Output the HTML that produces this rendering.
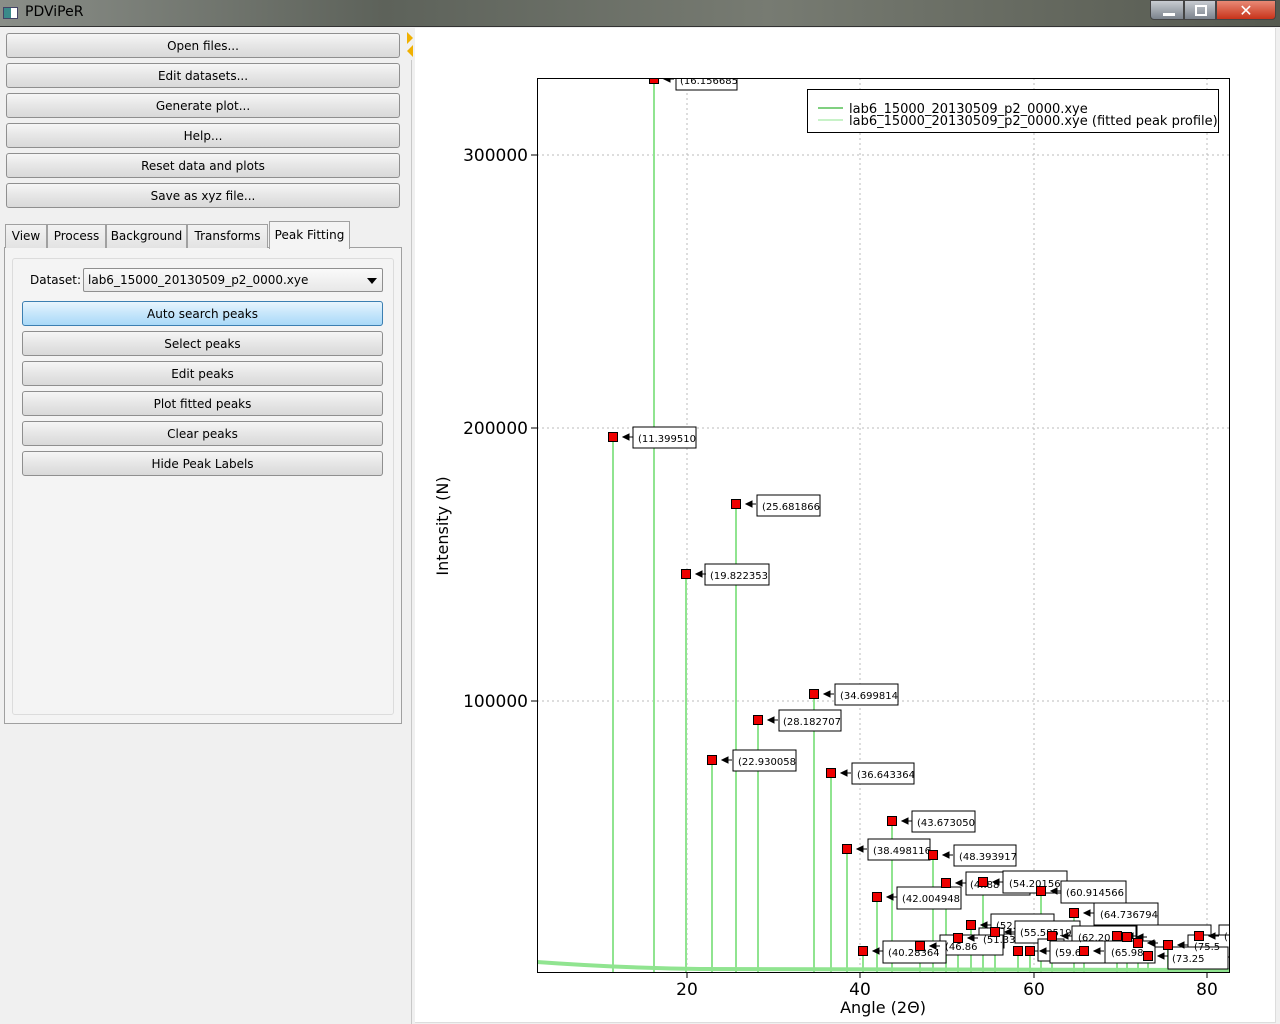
<!DOCTYPE html>
<html><head><meta charset="utf-8"><style>
*{margin:0;padding:0;box-sizing:border-box}
body{width:1280px;height:1024px;background:#f0f0f0;font-family:"DejaVu Sans","Liberation Sans",sans-serif;font-size:12px;position:relative;overflow:hidden;color:#000}
.tb{position:absolute;left:0;top:0;width:1280px;height:27px;background:linear-gradient(90deg,#8a8e88,#5d625a 30%,#777b72 60%,#55594f);border-bottom:1px solid #333}
.tb .t{position:absolute;left:25px;top:4px;font-size:14px;color:#000}
.btn{position:absolute;left:6px;width:394px;height:25px;border:1px solid #8f8f8f;border-radius:3px;background:linear-gradient(#f6f6f6,#e6e6e6 50%,#d9d9d9);text-align:center;line-height:25px;font-size:12px}
.tab{position:absolute;top:224px;height:24px;border:1px solid #a0a0a0;border-bottom:none;background:linear-gradient(#f2f2f2,#e3e3e3);line-height:23px;text-align:center;font-size:12px}
</style></head><body>
<div class="tb"><div style="position:absolute;left:3px;top:7px;width:15px;height:12px;background:#fff;border:1px solid #446"><div style="width:7px;height:10px;background:#3a8a8a"></div></div><div class="t">PDViPeR</div>
<div style="position:absolute;left:1150px;top:0;width:34px;height:20px;background:linear-gradient(#c8ccd2,#7c838c);border:1px solid #444;border-radius:0 0 0 4px"><div style="position:absolute;left:12px;top:12px;width:12px;height:3px;background:#fff"></div></div>
<div style="position:absolute;left:1184px;top:0;width:32px;height:20px;background:linear-gradient(#c8ccd2,#7c838c);border:1px solid #444"><div style="position:absolute;left:10px;top:4px;width:12px;height:11px;border:2px solid #fff"></div></div>
<div style="position:absolute;left:1216px;top:0;width:60px;height:20px;background:linear-gradient(#e88a76,#c8331a);border:1px solid #444;border-radius:0 0 4px 0;color:#fff;font-weight:bold;text-align:center;font-size:16px;line-height:19px">✕</div></div>
<div class="btn" style="top:33px">Open files...</div>
<div class="btn" style="top:63px">Edit datasets...</div>
<div class="btn" style="top:93px">Generate plot...</div>
<div class="btn" style="top:123px">Help...</div>
<div class="btn" style="top:153px">Reset data and plots</div>
<div class="btn" style="top:183px">Save as xyz file...</div>
<div style="position:absolute;left:407px;top:32px;width:0;height:0;border-top:6px solid transparent;border-bottom:6px solid transparent;border-left:6px solid #f0b000"></div>
<div style="position:absolute;left:407px;top:45px;width:0;height:0;border-top:6px solid transparent;border-bottom:6px solid transparent;border-right:6px solid #f0b000"></div>
<div style="position:absolute;left:411px;top:60px;width:1px;height:964px;background:#c8c8c8"></div>
<div style="position:absolute;left:4px;top:247px;width:398px;height:477px;border:1px solid #a0a0a0;background:#f4f4f4"></div>
<div class="tab" style="left:5px;width:42px">View</div>
<div class="tab" style="left:47px;width:59px">Process</div>
<div class="tab" style="left:106px;width:81px">Background</div>
<div class="tab" style="left:187px;width:81px">Transforms</div>
<div class="tab" style="left:269px;top:221px;height:28px;width:81px;background:#f4f4f4;line-height:27px">Peak Fitting</div>
<div style="position:absolute;left:12px;top:258px;width:382px;height:457px;border:1px solid #dcdcdc;border-radius:3px;background:#f4f4f4"></div>
<div style="position:absolute;left:30px;top:273px">Dataset:</div>
<div style="position:absolute;left:83px;top:268px;width:300px;height:24px;border:1px solid #8f8f8f;border-radius:2px;background:linear-gradient(#fafafa,#e8e8e8);padding-left:4px;line-height:23px">lab6_15000_20130509_p2_0000.xye<div style="position:absolute;right:5px;top:9px;border-left:5px solid transparent;border-right:5px solid transparent;border-top:6px solid #000"></div></div>
<div class="btn" style="left:22px;width:361px;top:301px;background:linear-gradient(#e8f5fd,#c6e6fb 50%,#a9d9f8);border-color:#3c7fb1">Auto search peaks</div>
<div class="btn" style="left:22px;width:361px;top:331px">Select peaks</div>
<div class="btn" style="left:22px;width:361px;top:361px">Edit peaks</div>
<div class="btn" style="left:22px;width:361px;top:391px">Plot fitted peaks</div>
<div class="btn" style="left:22px;width:361px;top:421px">Clear peaks</div>
<div class="btn" style="left:22px;width:361px;top:451px">Hide Peak Labels</div>
<div style="position:absolute;left:415px;top:28px;width:861px;height:995px;background:#fff;border-right:1px solid #ddd;border-bottom:1px solid #ddd"></div>
<svg style="position:absolute;left:0;top:0" width="1280" height="1024" font-family="DejaVu Sans, Liberation Sans, sans-serif">
<defs><clipPath id="c"><rect x="537" y="78" width="692" height="894"/></clipPath>
<g id="m"><rect x="-4.5" y="-4.5" width="9" height="9" fill="#e00" stroke="#000" stroke-width="1"/><path d="M10 0 L16 -3 L16 3Z M16 0 L20 0" fill="#000" stroke="#000"/></g></defs>
<g stroke="#bbb" stroke-dasharray="2,3"><line x1="687" y1="78" x2="687" y2="972"/><line x1="860" y1="78" x2="860" y2="972"/><line x1="1034" y1="78" x2="1034" y2="972"/><line x1="1207" y1="78" x2="1207" y2="972"/><line x1="537" y1="155" x2="1229" y2="155"/><line x1="537" y1="428" x2="1229" y2="428"/><line x1="537" y1="701" x2="1229" y2="701"/></g>
<g clip-path="url(#c)">
<g stroke="#90e490" stroke-width="2">
<line x1="654" y1="79" x2="654" y2="972"/><line x1="613" y1="437" x2="613" y2="972"/><line x1="736" y1="504" x2="736" y2="972"/><line x1="686" y1="574" x2="686" y2="972"/><line x1="814" y1="694" x2="814" y2="972"/><line x1="758" y1="720" x2="758" y2="972"/><line x1="712" y1="760" x2="712" y2="972"/><line x1="831" y1="773" x2="831" y2="972"/><line x1="892" y1="821" x2="892" y2="972"/><line x1="847" y1="849" x2="847" y2="972"/><line x1="933" y1="855" x2="933" y2="972"/><line x1="946" y1="883" x2="946" y2="972"/><line x1="983" y1="882" x2="983" y2="972"/><line x1="1041" y1="891" x2="1041" y2="972"/><line x1="877" y1="897" x2="877" y2="972"/><line x1="1074" y1="913" x2="1074" y2="972"/><line x1="971" y1="925" x2="971" y2="972"/><line x1="995" y1="932" x2="995" y2="972"/><line x1="958" y1="938" x2="958" y2="972"/><line x1="1052" y1="936" x2="1052" y2="972"/><line x1="1117" y1="936" x2="1117" y2="972"/><line x1="1127" y1="937" x2="1127" y2="972"/><line x1="1138" y1="943" x2="1138" y2="972"/><line x1="920" y1="946" x2="920" y2="972"/><line x1="863" y1="951" x2="863" y2="972"/><line x1="1018" y1="951" x2="1018" y2="972"/><line x1="1030" y1="951" x2="1030" y2="972"/><line x1="1084" y1="951" x2="1084" y2="972"/><line x1="1168" y1="945" x2="1168" y2="972"/><line x1="1148" y1="956" x2="1148" y2="972"/><line x1="1199" y1="936" x2="1199" y2="972"/>
</g>
<path d="M537 962 Q620 968 700 969 L1229 970" stroke="#90e490" stroke-width="4" fill="none"/>
<g stroke="#000" fill="#fff">
<rect x="676" y="70" width="61" height="20"/><rect x="633" y="427" width="63" height="21"/><rect x="757" y="495" width="63" height="21"/><rect x="705" y="564" width="64" height="21"/><rect x="835" y="684" width="63" height="21"/><rect x="779" y="710" width="62" height="21"/><rect x="733" y="750" width="63" height="21"/><rect x="852" y="763" width="62" height="21"/><rect x="912" y="811" width="63" height="21"/><rect x="868" y="839" width="62" height="21"/><rect x="954" y="845" width="62" height="21"/><rect x="966" y="872" width="64" height="23"/><rect x="1003" y="871" width="64" height="22"/><rect x="1061" y="881" width="65" height="22"/><rect x="897" y="887" width="64" height="22"/><rect x="1094" y="903" width="64" height="22"/><rect x="991" y="914" width="63" height="20"/><rect x="979" y="928" width="25" height="20"/><rect x="1015" y="921" width="65" height="22"/><rect x="1072" y="926" width="64" height="22"/><rect x="1137" y="925" width="74" height="22"/><rect x="1219" y="925" width="20" height="22"/><rect x="940" y="935" width="63" height="20"/><rect x="883" y="941" width="63" height="22"/><rect x="1038" y="939" width="26" height="22"/><rect x="1050" y="941" width="56" height="22"/><rect x="1105" y="941" width="50" height="22"/><rect x="1188" y="935" width="50" height="22"/><rect x="1168" y="947" width="60" height="22"/>
</g>
<g font-size="10" fill="#000">
<text x="680" y="84">(16.156685</text><text x="638" y="442">(11.399510</text><text x="762" y="510">(25.681866</text><text x="710" y="579">(19.822353</text><text x="840" y="699">(34.699814</text><text x="783" y="725">(28.182707</text><text x="738" y="765">(22.930058</text><text x="857" y="778">(36.643364</text><text x="917" y="826">(43.673050</text><text x="873" y="854">(38.498116</text><text x="959" y="860">(48.393917</text><text x="970" y="888">(4..88</text><text x="1009" y="887">(54.20156</text><text x="1066" y="896">(60.914566</text><text x="902" y="902">(42.004948</text><text x="1100" y="918">(64.736794</text><text x="996" y="929">(52.</text><text x="983" y="943">(51.33</text><text x="1020" y="936">(55.58519</text><text x="1078" y="941">(62.20</text><text x="945" y="950">(46.86</text><text x="888" y="956">(40.28364</text><text x="1055" y="956">(59.6</text><text x="1111" y="956">(65.98</text><text x="1194" y="950">(75.5</text><text x="1172" y="962">(73.25</text><text x="1224" y="940">(</text>
</g>
<use href="#m" x="654" y="79"/><use href="#m" x="613" y="437"/><use href="#m" x="736" y="504"/><use href="#m" x="686" y="574"/><use href="#m" x="814" y="694"/><use href="#m" x="758" y="720"/><use href="#m" x="712" y="760"/><use href="#m" x="831" y="773"/><use href="#m" x="892" y="821"/><use href="#m" x="847" y="849"/><use href="#m" x="933" y="855"/><use href="#m" x="946" y="883"/><use href="#m" x="983" y="882"/><use href="#m" x="1041" y="891"/><use href="#m" x="877" y="897"/><use href="#m" x="1074" y="913"/><use href="#m" x="971" y="925"/><use href="#m" x="995" y="932"/><use href="#m" x="958" y="938"/><use href="#m" x="1052" y="936"/><use href="#m" x="1117" y="936"/><use href="#m" x="1127" y="937"/><use href="#m" x="1138" y="943"/><use href="#m" x="920" y="946"/><use href="#m" x="863" y="951"/><use href="#m" x="1018" y="951"/><use href="#m" x="1030" y="951"/><use href="#m" x="1084" y="951"/><use href="#m" x="1168" y="945"/><use href="#m" x="1148" y="956"/><use href="#m" x="1199" y="936"/>
</g>
<rect x="537.5" y="78.5" width="692" height="894" fill="none" stroke="#000"/>
<g stroke="#000"><line x1="531" y1="155" x2="537" y2="155"/><line x1="531" y1="428" x2="537" y2="428"/><line x1="531" y1="701" x2="537" y2="701"/><line x1="687" y1="972" x2="687" y2="978"/><line x1="860" y1="972" x2="860" y2="978"/><line x1="1034" y1="972" x2="1034" y2="978"/><line x1="1207" y1="972" x2="1207" y2="978"/></g>
<g font-size="17" fill="#000"><text x="528" y="161" text-anchor="end">300000</text><text x="528" y="434" text-anchor="end">200000</text><text x="528" y="707" text-anchor="end">100000</text>
<text x="687" y="995" text-anchor="middle">20</text><text x="860" y="995" text-anchor="middle">40</text><text x="1034" y="995" text-anchor="middle">60</text><text x="1207" y="995" text-anchor="middle">80</text>
<text x="883" y="1013" text-anchor="middle" font-size="16">Angle (2Θ)</text>
<text transform="translate(448,526) rotate(-90)" text-anchor="middle" font-size="16">Intensity (N)</text></g>
<rect x="807.5" y="89.5" width="411" height="43" fill="#fff" stroke="#000"/>
<line x1="818" y1="108" x2="843" y2="108" stroke="#00a000"/><line x1="818" y1="120" x2="843" y2="120" stroke="#90e490"/>
<text x="849" y="113" font-size="13">lab6_15000_20130509_p2_0000.xye</text>
<text x="849" y="125" font-size="13">lab6_15000_20130509_p2_0000.xye (fitted peak profile)</text>
</svg>
</body></html>
